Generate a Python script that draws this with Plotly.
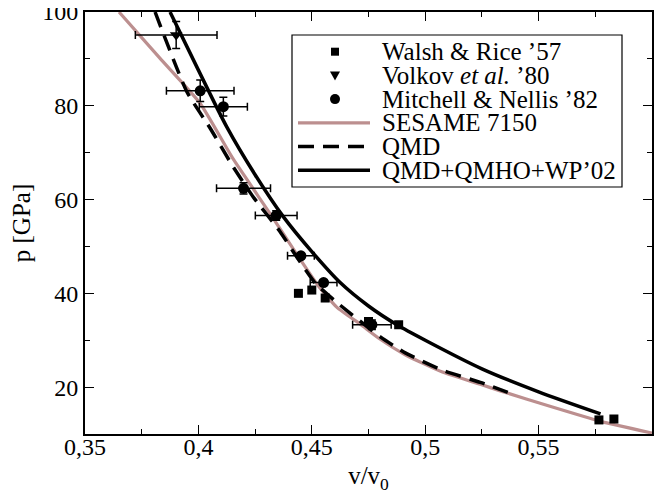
import plotly.graph_objects as go

# ---------------- data ----------------
walsh_v = [0.4441, 0.4500, 0.4559, 0.4750, 0.4883, 0.5766, 0.5832]
walsh_p = [40.0, 40.7, 39.0, 34.0, 33.3, 13.0, 13.2]

volkov_v = [0.3902]
volkov_p = [95.1]
volkov_verr = [0.018]
volkov_perr = [2.9]

mitchell_v = [0.4008, 0.4110, 0.4199, 0.4343, 0.4452, 0.4552, 0.4765]
mitchell_p = [83.2, 79.8, 62.4, 56.6, 48.0, 42.3, 33.3]
mitchell_verr = [0.0149, 0.0106, 0.0119, 0.0092, 0.0059, 0.0059, 0.0085]
mitchell_perr = [2.3, 2.0, 1.2, 1.0, 0.5, 0.6, 1.0]

sesame_v = [0.3650, 0.3831, 0.4008, 0.4154, 0.4316, 0.4441, 0.4530, 0.4611, 0.4714,
            0.4802, 0.4912, 0.5076, 0.5243, 0.5331, 0.5550, 0.5773, 0.6000]
sesame_p = [100.0, 90.1, 80.5, 68.6, 57.0, 47.8, 41.5, 37.0, 33.4,
            30.2, 26.9, 23.2, 20.6, 19.2, 15.9, 12.7, 10.2]

qmd_v = [0.3809, 0.3949, 0.4052, 0.4153, 0.4241, 0.4361, 0.4436, 0.4515, 0.4612,
         0.4802, 0.4912, 0.5076, 0.5243, 0.5398]
qmd_p = [100.0, 83.0, 75.2, 67.0, 60.6, 53.1, 47.6, 42.2, 38.0,
         30.7, 27.3, 23.6, 21.0, 18.3]

wp_v = [0.3875, 0.4000, 0.4125, 0.4250, 0.4375, 0.4500, 0.4625, 0.4750, 0.4875,
        0.5000, 0.5250, 0.5500, 0.5773]
wp_p = [100.0, 87.6, 75.5, 65.3, 56.3, 48.9, 42.3, 37.3, 33.3,
        30.0, 23.9, 19.0, 14.3]

x_tickvals = [0.35, 0.40, 0.45, 0.50, 0.55]
x_ticktext = ["0,35", "0,4", "0,45", "0,5", "0,55"]
y_tickvals = [20, 40, 60, 80, 100]

legend_labels = ["Walsh &amp; Rice \u201957", "Volkov <i>et al.</i> \u201980",
                 "Mitchell &amp; Nellis \u201982", "SESAME 7150", "QMD",
                 "QMD+QMHO+WP\u201902"]

# ---------------- style ----------------
FONT = "Liberation Serif"
ROSY = "#bc8f8f"

fig = go.Figure()

fig.add_trace(go.Scatter(x=sesame_v, y=sesame_p, mode="lines",
                         line=dict(color=ROSY, width=3.2, shape="spline", smoothing=0.5),
                         showlegend=False))
fig.add_trace(go.Scatter(x=qmd_v, y=qmd_p, mode="lines",
                         line=dict(color="black", width=3.5, dash="16px,9px",
                                   shape="spline", smoothing=0.5),
                         showlegend=False))
fig.add_trace(go.Scatter(x=wp_v, y=wp_p, mode="lines",
                         line=dict(color="black", width=3.5, shape="spline", smoothing=0.8),
                         showlegend=False))

fig.add_trace(go.Scatter(x=walsh_v, y=walsh_p, mode="markers",
                         marker=dict(symbol="square", size=9, color="black"),
                         showlegend=False))
fig.add_trace(go.Scatter(x=volkov_v, y=volkov_p, mode="markers",
                         marker=dict(symbol="triangle-down", size=11, color="black"),
                         error_x=dict(type="data", array=volkov_verr, color="black",
                                      thickness=1.5, width=4),
                         error_y=dict(type="data", array=volkov_perr, color="black",
                                      thickness=1.5, width=4),
                         showlegend=False))
fig.add_trace(go.Scatter(x=mitchell_v, y=mitchell_p, mode="markers",
                         marker=dict(symbol="circle", size=11, color="black"),
                         error_x=dict(type="data", array=mitchell_verr, color="black",
                                      thickness=1.5, width=4),
                         error_y=dict(type="data", array=mitchell_perr, color="black",
                                      thickness=1.5, width=4),
                         showlegend=False))

# ---------------- custom legend (screen px -> paper) ----------------
OFF = 8.0  # default body margin of the html page
L, T, B = 85.0, 12.0, 434.0
W, H = 567.0, 422.0


def px(x):
    return (x - L) / W


def py(y):
    return (B - y) / H


shapes = [dict(type="rect", xref="paper", yref="paper",
               x0=px(292), x1=px(622), y0=py(187), y1=py(35),
               line=dict(color="black", width=1.2), fillcolor="white", layer="above")]
rows = [51.7, 75.4, 99.1, 122.8, 146.5, 170.2]
mx = px(335)
shapes.append(dict(type="rect", xref="paper", yref="paper", xsizemode="pixel",
                   ysizemode="pixel", xanchor=mx, yanchor=py(rows[0]),
                   x0=-4, x1=4, y0=-4, y1=4, fillcolor="black",
                   line=dict(width=0), layer="above"))
shapes.append(dict(type="path", xref="paper", yref="paper", xsizemode="pixel",
                   ysizemode="pixel", xanchor=mx, yanchor=py(rows[1]),
                   path="M -5 4 L 5 4 L 0 -5 Z", fillcolor="black",
                   line=dict(width=0), layer="above"))
shapes.append(dict(type="circle", xref="paper", yref="paper", xsizemode="pixel",
                   ysizemode="pixel", xanchor=mx, yanchor=py(rows[2]),
                   x0=-5, x1=5, y0=-5, y1=5, fillcolor="black",
                   line=dict(width=0), layer="above"))
line_styles = [dict(color=ROSY, width=3.2), dict(color="black", width=3.5, dash="16px,9px"),
               dict(color="black", width=3.5)]
for i, st in enumerate(line_styles):
    yy = py(rows[3 + i])
    shapes.append(dict(type="line", xref="paper", yref="paper",
                       x0=px(298), x1=px(370), y0=yy, y1=yy, line=st, layer="above"))

annotations = []
for i, lab in enumerate(legend_labels):
    annotations.append(dict(xref="paper", yref="paper", x=px(380), y=py(rows[i]),
                            xanchor="left", yanchor="middle", text=lab, showarrow=False,
                            font=dict(family=FONT, size=25, color="black")))

fig.update_layout(
    width=669 - OFF, height=504 - OFF,
    margin=dict(l=L - OFF, r=17, t=T - OFF, b=70, autoexpand=False),
    paper_bgcolor="white", plot_bgcolor="white",
    font=dict(family=FONT, size=24, color="black"),
    showlegend=False,
    shapes=shapes, annotations=annotations,
)
fig.update_xaxes(range=[0.35, 0.6], tickvals=x_tickvals, ticktext=x_ticktext,
                 ticks="inside", ticklen=9, tickwidth=1.2, tickcolor="black",
                 showline=True, linecolor="black", linewidth=2, mirror="allticks",
                 showgrid=False, zeroline=False, automargin=False,
                 ticklabeloverflow="allow", ticklabelstandoff=-10,
                 minor=dict(tickvals=[0.375, 0.425, 0.475, 0.525, 0.575],
                            ticks="inside", ticklen=5, tickcolor="black", tickwidth=1.2),
                 tickfont=dict(family=FONT, size=24),
                 title=dict(text="v/v<sub>0</sub>", font=dict(family=FONT, size=25),
                            standoff=8))
fig.update_yaxes(range=[10, 100], tickvals=y_tickvals,
                 ticks="inside", ticklen=9, tickwidth=1.2, tickcolor="black",
                 showline=True, linecolor="black", linewidth=2, mirror="allticks",
                 showgrid=False, zeroline=False, automargin=False,
                 ticklabeloverflow="allow",
                 minor=dict(tickvals=[30, 50, 70, 90],
                            ticks="inside", ticklen=5, tickcolor="black", tickwidth=1.2),
                 tickfont=dict(family=FONT, size=24),
                 title=dict(text="p [GPa]", font=dict(family=FONT, size=25), standoff=10))

fig.write_html("out.html")
